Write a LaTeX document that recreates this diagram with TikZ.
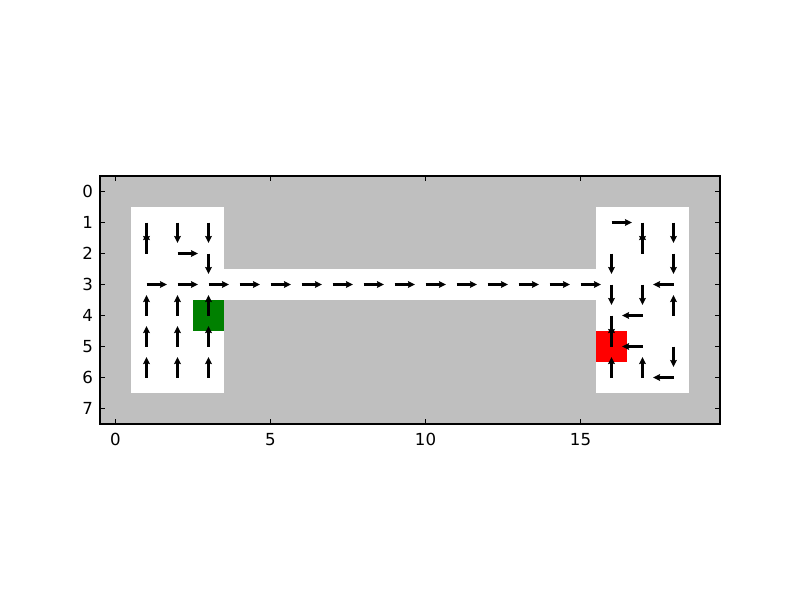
\documentclass[tikz,border=0pt]{standalone}
\usepackage{fontspec}
\setmainfont{DejaVu Sans}
\usetikzlibrary{arrows.meta}
\definecolor{wallgray}{RGB}{191,191,191}
\definecolor{startgreen}{RGB}{0,128,0}
\definecolor{goalred}{RGB}{255,0,0}
\tikzset{
  qarrow/.style={line width=1.5pt,-{Stealth[length=5pt,width=4.8pt,inset=0.6pt]}},
  ticklab/.style={font=\fontsize{12}{14}\selectfont,inner sep=0pt},
  tickmark/.style={line width=0.6pt}
}
\begin{document}
\begin{tikzpicture}[x=0.31in,y=-0.31in]
\useasboundingbox (-3.7258,-6.1774) rectangle (22.0806,13.1774);
% background of axes
\fill[wallgray] (-0.5,-0.5) rectangle (19.5,7.5);
% free cells
\fill[white] (0.5,0.5) rectangle (3.5,6.5);
\fill[white] (15.5,0.5) rectangle (18.5,6.5);
\fill[white] (3.5,2.5) rectangle (15.5,3.5);
% start and goal
\fill[startgreen] (2.5,3.5) rectangle (3.5,4.5);
\fill[goalred] (15.5,4.5) rectangle (16.5,5.5);
% arrows
\def\L{0.66}
\foreach \x/\y in {1/3,2/2,2/3,3/3,4/3,5/3,6/3,7/3,8/3,9/3,10/3,11/3,12/3,13/3,14/3,15/3,16/1}
  \draw[qarrow] (\x,\y) -- ++(\L,0);
\foreach \x/\y in {18/3,17/4,17/5,18/6}
  \draw[qarrow] (\x,\y) -- ++(-\L,0);
\foreach \x/\y in {1/1,2/1,3/1,3/2,17/1,18/1,16/2,18/2,16/3,17/3,16/4,18/5}
  \draw[qarrow] (\x,\y) -- ++(0,\L);
\foreach \x/\y in {1/2,1/4,1/5,1/6,2/4,2/5,2/6,3/4,3/5,3/6,17/2,18/4,16/5,16/6,17/6}
  \draw[qarrow] (\x,\y) -- ++(0,-\L);
% ticks
\foreach \x in {0,5,10,15} {
  \draw[tickmark] (\x,7.5) -- ++(0,-0.16);
  \draw[tickmark] (\x,-0.5) -- ++(0,0.16);
  \node[ticklab,anchor=north] (xl\x) at (\x,7.8) {\x};
}
\foreach \y in {0,...,7} {
  \draw[tickmark] (-0.5,\y) -- ++(0.16,0);
  \draw[tickmark] (19.5,\y) -- ++(-0.16,0);
  \node[ticklab,anchor=east] (yl\y) at (-0.72,\y) {\y};
}
% frame
\draw[line width=0.8pt] (-0.5,-0.5) rectangle (19.5,7.5);
\end{tikzpicture}
\end{document}
